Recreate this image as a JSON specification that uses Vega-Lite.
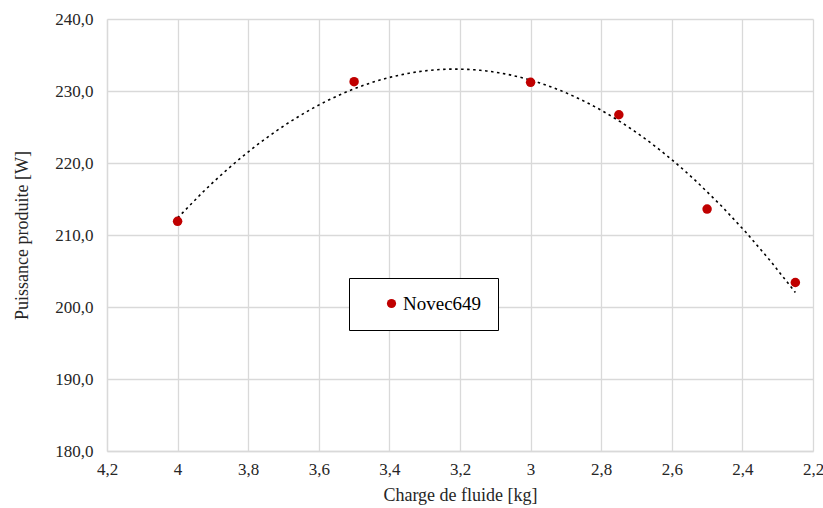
{
  "$schema": "https://vega.github.io/schema/vega-lite/v6.json",
  "autosize": "none",
  "width": 706,
  "height": 432,
  "padding": {"left": 107, "top": 19, "right": 10, "bottom": 57},
  "background": "white",
  "config": {
    "locale": {"number": {"decimal": ",", "thousands": " ", "grouping": [3], "currency": ["", " €"]}},
    "view": {"stroke": null},
    "font": "Liberation Serif, DejaVu Serif, serif",
    "axis": {
      "labelFont": "Liberation Serif, DejaVu Serif, serif",
      "titleFont": "Liberation Serif, DejaVu Serif, serif",
      "labelFontSize": 17,
      "titleFontSize": 18,
      "titleFontWeight": "normal",
      "labelColor": "#262626",
      "titleColor": "#262626",
      "gridColor": "#D9D9D9",
      "gridWidth": 1.3,
      "domainColor": "#D9D9D9",
      "domainWidth": 1.3,
      "ticks": false
    },
    "legend": {"labelFont": "Liberation Serif, DejaVu Serif, serif"}
  },
  "data": {
    "values": [
      {"charge": 4.0, "puissance": 211.9, "serie": "Novec649"},
      {"charge": 3.5, "puissance": 231.3, "serie": "Novec649"},
      {"charge": 3.0, "puissance": 231.2, "serie": "Novec649"},
      {"charge": 2.75, "puissance": 226.7, "serie": "Novec649"},
      {"charge": 2.5, "puissance": 213.6, "serie": "Novec649"},
      {"charge": 2.25, "puissance": 203.4, "serie": "Novec649"}
    ]
  },
  "encoding": {
    "x": {
      "field": "charge",
      "type": "quantitative",
      "scale": {"domain": [2.2, 4.2], "reverse": true, "nice": false, "zero": false},
      "axis": {
        "title": "Charge de fluide [kg]",
        "values": [2.2, 2.4, 2.6, 2.8, 3.0, 3.2, 3.4, 3.6, 3.8, 4.0, 4.2],
        "format": "~f",
        "labelPadding": 10,
        "titlePadding": 9,
        "labelFlush": false
      }
    },
    "y": {
      "field": "puissance",
      "type": "quantitative",
      "scale": {"domain": [180, 240], "nice": false, "zero": false},
      "axis": {
        "title": "Puissance produite [W]",
        "values": [180, 190, 200, 210, 220, 230, 240],
        "format": ".1f",
        "labelPadding": 14,
        "titlePadding": 23
      }
    }
  },
  "layer": [
    {
      "transform": [
        {"regression": "puissance", "on": "charge", "method": "poly", "order": 2}
      ],
      "mark": {"type": "line", "color": "black", "strokeDash": [2.5, 3.5], "strokeWidth": 1.6}
    },
    {
      "mark": {"type": "point", "filled": true, "opacity": 1, "size": 90, "shape": "circle"},
      "encoding": {
        "color": {
          "field": "serie",
          "type": "nominal",
          "scale": {"range": ["#C00000"]},
          "legend": {
            "title": null,
            "orient": "none",
            "legendX": 242,
            "legendY": 259,
            "padding": 16,
            "strokeColor": "black",
            "fillColor": "white",
            "symbolType": "circle",
            "symbolSize": 85,
            "symbolOpacity": 1,
            "symbolOffset": 17,
            "labelOffset": 2,
            "labelFontSize": 19,
            "labelColor": "black"
          }
        }
      }
    }
  ]
}
